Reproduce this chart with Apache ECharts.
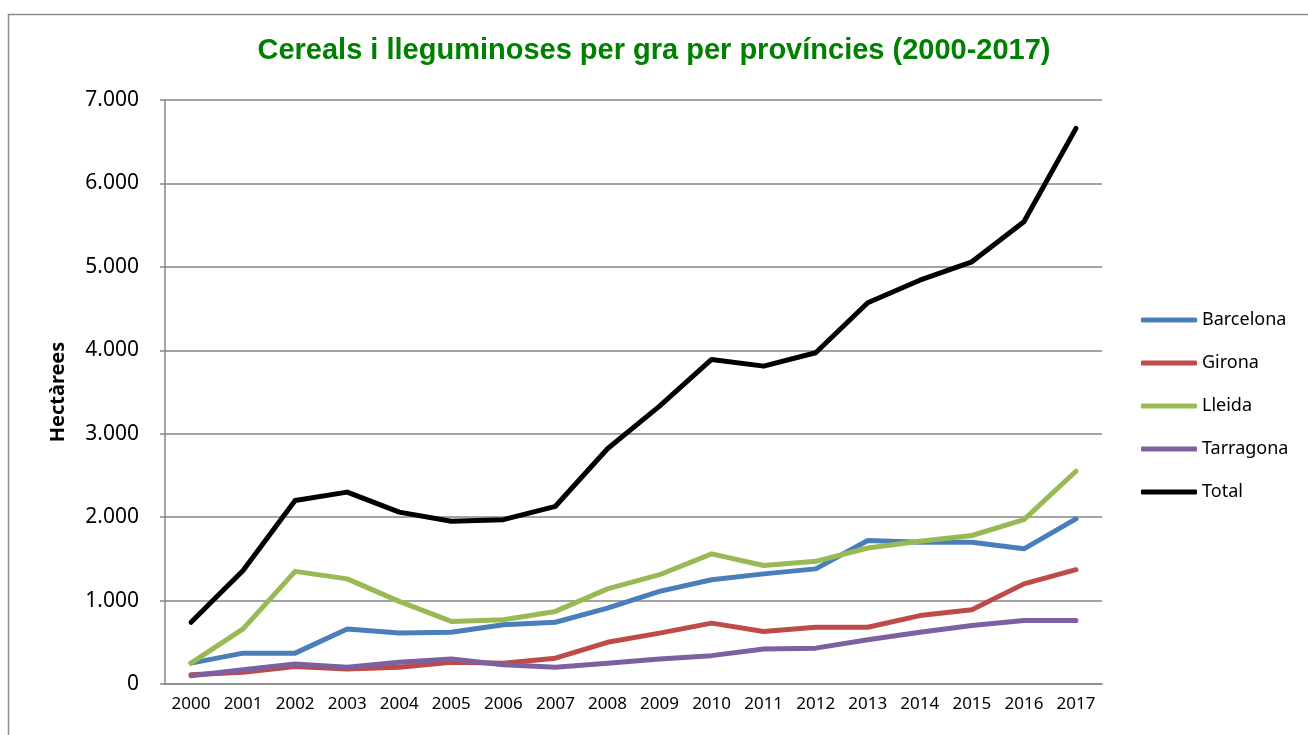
<!DOCTYPE html>
<html>
<head>
<meta charset="utf-8">
<script src="https://cdn.jsdelivr.net/npm/echarts@6/dist/echarts.min.js"></script>
<style>
  html, body { margin: 0; padding: 0; background: #fff; }
  #chart { width: 1308px; height: 735px; }
</style>
</head>
<body>
<div id="chart"></div>
<script>
const YEARS = ["2000","2001","2002","2003","2004","2005","2006","2007","2008","2009","2010","2011","2012","2013","2014","2015","2016","2017"];

const BARCELONA = [250, 370, 370, 660, 610, 620, 710, 740, 910, 1110, 1250, 1320, 1380, 1720, 1700, 1700, 1620, 1980];
const GIRONA    = [110, 140, 210, 180, 200, 260, 250, 310, 500, 610, 730, 630, 680, 680, 820, 890, 1200, 1370];
const LLEIDA    = [250, 660, 1350, 1260, 990, 750, 770, 870, 1140, 1310, 1560, 1420, 1470, 1630, 1710, 1780, 1970, 2550];
const TARRAGONA = [100, 170, 240, 200, 260, 300, 230, 200, 250, 300, 340, 420, 430, 530, 620, 700, 760, 760];
const TOTAL     = [740, 1360, 2200, 2300, 2060, 1950, 1970, 2130, 2820, 3330, 3890, 3810, 3970, 4570, 4840, 5060, 5540, 6660];

const SERIES_NAMES = ["Barcelona", "Girona", "Lleida", "Tarragona", "Total"];
const COLORS = ["#4a7ebb", "#be4b48", "#98b954", "#7d60a0", "#000000"];

const chart = echarts.init(document.getElementById("chart"));

// 7000 -> "7.000"
const fmt = (v) => v === 0 ? "0" : v.toString().replace(/\B(?=(\d{3})+(?!\d))/g, ".");

const values = [BARCELONA, GIRONA, LLEIDA, TARRAGONA, TOTAL];

const option = {
  animation: false,
  backgroundColor: "#ffffff",
  graphic: [
    {
      // chart frame (only top and left edges show in the picture)
      type: "rect",
      left: 6,
      top: 12,
      shape: { width: 1400, height: 900 },
      style: { fill: "none", stroke: "#8c8c8c", lineWidth: 1.5 },
      silent: true,
    },
  ],
  title: {
    text: "Cereals i lleguminoses per gra per províncies (2000-2017)",
    left: "center",
    top: 31,
    textStyle: {
      fontFamily: "Liberation Sans",
      fontWeight: "bold",
      fontSize: 29,
      color: "#008000",
    },
  },
  grid: {
    left: 165,
    right: 206,
    top: 100,
    bottom: 51,
  },
  legend: {
    orient: "vertical",
    left: 1141,
    top: 311,
    padding: 0,
    itemWidth: 56,
    itemHeight: 5,
    itemGap: 25,
    icon: "roundRect",
    textStyle: {
      fontFamily: "Noto Sans",
      fontSize: 18,
      color: "#000",
    },
    data: SERIES_NAMES,
  },
  xAxis: {
    type: "category",
    data: YEARS,
    boundaryGap: true,
    axisLine: { show: true, lineStyle: { color: "#868686", width: 1.5 } },
    axisTick: { show: false },
    axisLabel: {
      fontFamily: "Noto Sans",
      fontSize: 17,
      color: "#000",
      margin: 12,
      interval: 0,
    },
  },
  yAxis: {
    type: "value",
    min: 0,
    max: 7000,
    interval: 1000,
    name: "Hectàrees",
    nameLocation: "middle",
    nameGap: 97,
    nameTextStyle: {
      fontFamily: "Noto Sans",
      fontWeight: "bold",
      fontSize: 20,
      color: "#000",
    },
    axisLine: { show: true, lineStyle: { color: "#868686", width: 1.5 } },
    axisTick: { show: true, inside: false, length: 5, lineStyle: { color: "#868686", width: 1.5 } },
    axisLabel: {
      fontFamily: "Noto Sans",
      fontSize: 21,
      color: "#000",
      margin: 26,
      formatter: fmt,
    },
    splitLine: { show: true, lineStyle: { color: "#868686", width: 1.5 } },
  },
  series: SERIES_NAMES.map((name, i) => ({
    name,
    type: "line",
    data: values[i],
    showSymbol: false,
    symbol: "none",
    color: COLORS[i],
    lineStyle: { color: COLORS[i], width: 5, cap: "round", join: "round" },
    z: 2 + i,
  })),
};

chart.setOption(option);
</script>
</body>
</html>
